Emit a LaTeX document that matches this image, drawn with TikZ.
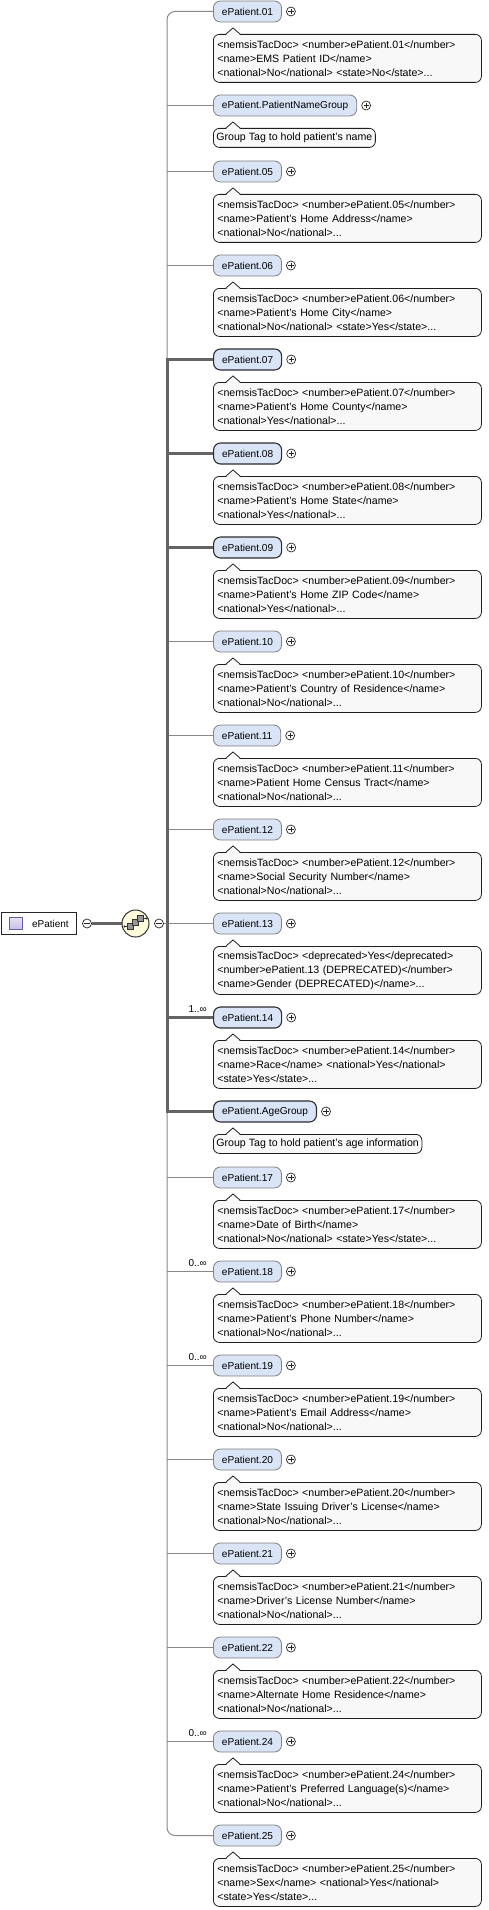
\documentclass[tikz,border=0pt]{standalone}
\usepackage{fontspec}
\setmainfont{Liberation Sans}
\usetikzlibrary{backgrounds}
\definecolor{elemfill}{RGB}{217,228,246}
\definecolor{elemopt}{RGB}{128,128,128}
\definecolor{elemreq}{RGB}{45,45,45}
\definecolor{annotfill}{RGB}{248,248,248}
\definecolor{annotline}{RGB}{30,30,30}
\definecolor{connthin}{RGB}{136,136,136}
\definecolor{connthick}{RGB}{100,100,100}
\definecolor{compfill}{RGB}{255,252,222}
\definecolor{iconfill}{RGB}{200,188,232}
\definecolor{iconline}{RGB}{110,90,160}
\definecolor{sqfill}{RGB}{150,150,150}
\tikzset{
  elem/.style={draw=elemopt, fill=elemfill, rounded corners=7pt, minimum height=21pt,
    inner xsep=8.5pt, inner ysep=0pt, anchor=west, line width=0.8pt,
    font=\fontsize{10.1}{12}\selectfont},
  elemreq/.style={elem, draw=elemreq, line width=1.1pt},
  annot/.style={draw=annotline, fill=annotfill, rounded corners=6pt, anchor=north west,
    text width=260pt, align=left, minimum height=48pt, inner xsep=4pt, inner ysep=3pt,
    line width=0.8pt, font=\fontsize{10.6}{14}\selectfont},
  annotg/.style={draw=annotline, fill=annotfill, rounded corners=6pt, anchor=north west,
    minimum height=19pt, inner xsep=3pt, inner ysep=0pt,
    line width=0.8pt, font=\fontsize{10.6}{14}\selectfont},
  plus/.style={circle, draw=black!85, fill=white, minimum size=9pt, inner sep=0pt, line width=0.7pt,
    path picture={\draw[line width=0.7pt] ([xshift=-2.6pt]path picture bounding box.center) -- ([xshift=2.6pt]path picture bounding box.center);
      \draw[line width=0.7pt] ([yshift=-2.6pt]path picture bounding box.center) -- ([yshift=2.6pt]path picture bounding box.center);}},
  minus/.style={circle, draw=black!85, fill=white, minimum size=9pt, inner sep=0pt, line width=0.7pt,
    path picture={\draw[line width=0.7pt] ([xshift=-2.6pt]path picture bounding box.center) -- ([xshift=2.6pt]path picture bounding box.center);}},
  connthinline/.style={draw=connthin, line width=1pt},
  connthickline/.style={draw=connthick, line width=3pt, line join=miter},
  mult/.style={anchor=base east, inner sep=0pt, font=\fontsize{10}{12}\selectfont},
  rootbox/.style={draw=black!85, fill=white, anchor=west, minimum height=22pt, inner xsep=8pt,
    inner ysep=0pt, line width=0.9pt, font=\fontsize{10}{12}\selectfont},
  rooticon/.style={draw=iconline, top color=iconfill!45, bottom color=iconfill, minimum width=13pt,
    minimum height=12pt, inner sep=0pt, line width=0.7pt},
  compnode/.style={circle, draw=black!80, fill=compfill, minimum size=27pt, inner sep=0pt, line width=1pt},
  seqsq/.style={draw=black!80, fill=sqfill, minimum size=6pt, inner sep=0pt, line width=0.6pt},
}
\newcommand\elt[6]{%
  \node[#3] (e#1) at (213,#2) {#4};
  \node[plus] (p#1) at ([xshift=9pt]e#1.east) {};
  \node[#5] (a#1) at (213,#2+22.5) {#6};
  \fill[annotfill] ([xshift=13pt,yshift=-1pt]a#1.north west) -- ([xshift=20pt,yshift=6pt]a#1.north west) -- ([xshift=27pt,yshift=-1pt]a#1.north west) -- cycle;
  \draw[annotline, line width=0.8pt] ([xshift=13pt]a#1.north west) -- ([xshift=20pt,yshift=6pt]a#1.north west) -- ([xshift=27pt]a#1.north west);
}
\begin{document}
\begin{tikzpicture}[x=1pt,y=-1pt]
\useasboundingbox (0,0) rectangle (488,1910);

\elt{01}{11.5}{elem}{ePatient.01}{annot}{<nemsisTacDoc> <number>ePatient.01</number>\\<name>EMS Patient ID</name>\\<national>No</national> <state>No</state>...}
\elt{NG}{105.5}{elem}{ePatient.PatientNameGroup}{annotg}{Group Tag to hold patient's name}
\elt{05}{171.5}{elem}{ePatient.05}{annot}{<nemsisTacDoc> <number>ePatient.05</number>\\<name>Patient's Home Address</name>\\<national>No</national>...}
\elt{06}{265.5}{elem}{ePatient.06}{annot}{<nemsisTacDoc> <number>ePatient.06</number>\\<name>Patient's Home City</name>\\<national>No</national> <state>Yes</state>...}
\elt{07}{359.5}{elemreq}{ePatient.07}{annot}{<nemsisTacDoc> <number>ePatient.07</number>\\<name>Patient's Home County</name>\\<national>Yes</national>...}
\elt{08}{453.5}{elemreq}{ePatient.08}{annot}{<nemsisTacDoc> <number>ePatient.08</number>\\<name>Patient's Home State</name>\\<national>Yes</national>...}
\elt{09}{547.5}{elemreq}{ePatient.09}{annot}{<nemsisTacDoc> <number>ePatient.09</number>\\<name>Patient's Home ZIP Code</name>\\<national>Yes</national>...}
\elt{10}{641.5}{elem}{ePatient.10}{annot}{<nemsisTacDoc> <number>ePatient.10</number>\\<name>Patient's Country of Residence</name>\\<national>No</national>...}
\elt{11}{735.5}{elem}{ePatient.11}{annot}{<nemsisTacDoc> <number>ePatient.11</number>\\<name>Patient Home Census Tract</name>\\<national>No</national>...}
\elt{12}{829.5}{elem}{ePatient.12}{annot}{<nemsisTacDoc> <number>ePatient.12</number>\\<name>Social Security Number</name>\\<national>No</national>...}
\elt{13}{923.5}{elem}{ePatient.13}{annot}{<nemsisTacDoc> <deprecated>Yes</deprecated>\\<number>ePatient.13 (DEPRECATED)</number>\\<name>Gender (DEPRECATED)</name>...}
\elt{14}{1017.5}{elemreq}{ePatient.14}{annot}{<nemsisTacDoc> <number>ePatient.14</number>\\<name>Race</name> <national>Yes</national>\\<state>Yes</state>...}
\elt{AG}{1111.5}{elemreq}{ePatient.AgeGroup}{annotg}{Group Tag to hold patient's age information}
\elt{17}{1177.5}{elem}{ePatient.17}{annot}{<nemsisTacDoc> <number>ePatient.17</number>\\<name>Date of Birth</name>\\<national>No</national> <state>Yes</state>...}
\elt{18}{1271.5}{elem}{ePatient.18}{annot}{<nemsisTacDoc> <number>ePatient.18</number>\\<name>Patient's Phone Number</name>\\<national>No</national>...}
\elt{19}{1365.5}{elem}{ePatient.19}{annot}{<nemsisTacDoc> <number>ePatient.19</number>\\<name>Patient's Email Address</name>\\<national>No</national>...}
\elt{20}{1459.5}{elem}{ePatient.20}{annot}{<nemsisTacDoc> <number>ePatient.20</number>\\<name>State Issuing Driver's License</name>\\<national>No</national>...}
\elt{21}{1553.5}{elem}{ePatient.21}{annot}{<nemsisTacDoc> <number>ePatient.21</number>\\<name>Driver's License Number</name>\\<national>No</national>...}
\elt{22}{1647.5}{elem}{ePatient.22}{annot}{<nemsisTacDoc> <number>ePatient.22</number>\\<name>Alternate Home Residence</name>\\<national>No</national>...}
\elt{24}{1741.5}{elem}{ePatient.24}{annot}{<nemsisTacDoc> <number>ePatient.24</number>\\<name>Patient's Preferred Language(s)</name>\\<national>No</national>...}
\elt{25}{1835.5}{elem}{ePatient.25}{annot}{<nemsisTacDoc> <number>ePatient.25</number>\\<name>Sex</name> <national>Yes</national>\\<state>Yes</state>...}

% multiplicities
\node[mult] (m14) at ([xshift=-6pt,yshift=5pt]e14.west) {1..∞};
\node[mult] (m18) at ([xshift=-6pt,yshift=5pt]e18.west) {0..∞};
\node[mult] (m19) at ([xshift=-6pt,yshift=5pt]e19.west) {0..∞};
\node[mult] (m24) at ([xshift=-6pt,yshift=5pt]e24.west) {0..∞};

% root element and sequence compositor
\node[rootbox] (root) at (0.6,923.5) {\hspace*{23pt}ePatient};
\node[rooticon] (ricon) at ([xshift=15.5pt]root.west) {};
\node[minus] (mr) at (87,923.5) {};
\node[compnode] (comp) at (135.5,923.5) {};
\node[minus] (mc) at (159,923.5) {};
\node[seqsq] (sq1) at (130.5,926.5) {};
\node[seqsq] (sq2) at (135.5,922.5) {};
\node[seqsq] (sq3) at (140.5,918.5) {};
\coordinate (sl) at (124.5,926.5);
\coordinate (sr) at (146.5,918.5);
\draw[black!80, line width=0.7pt] (sl) -- (sq1.west);
\draw[black!80, line width=0.7pt] (sq3.east) -- (sr);
\fill[black!80] (sl) circle (1.1pt) (sr) circle (1.1pt);

\coordinate (tt) at (167,11.5);
\coordinate (tb) at (167,1835.5);
\coordinate (tr) at (167,923.5);

\begin{pgfonlayer}{background}
  \draw[connthinline, rounded corners=8pt] (e01.west) -- (tt) -- (tb) -- (e25.west);
  \foreach \n in {NG,05,06,10,11,12,13,17,18,19,20,21,22,24}
    \draw[connthinline] (e\n.west -| tt) -- (e\n.west);
  \draw[connthickline] (e07.west) -- (e07.west -| tt) -- (eAG.west -| tt) -- (eAG.west);
  \foreach \n in {08,09,14}
    \draw[connthickline] (e\n.west -| tt) -- (e\n.west);
  \draw[connthick, line width=2.6pt] (mr.east) -- (comp.west);
  \draw[connthinline] (mc.east) -- (tr);
\end{pgfonlayer}
\end{tikzpicture}
\end{document}
